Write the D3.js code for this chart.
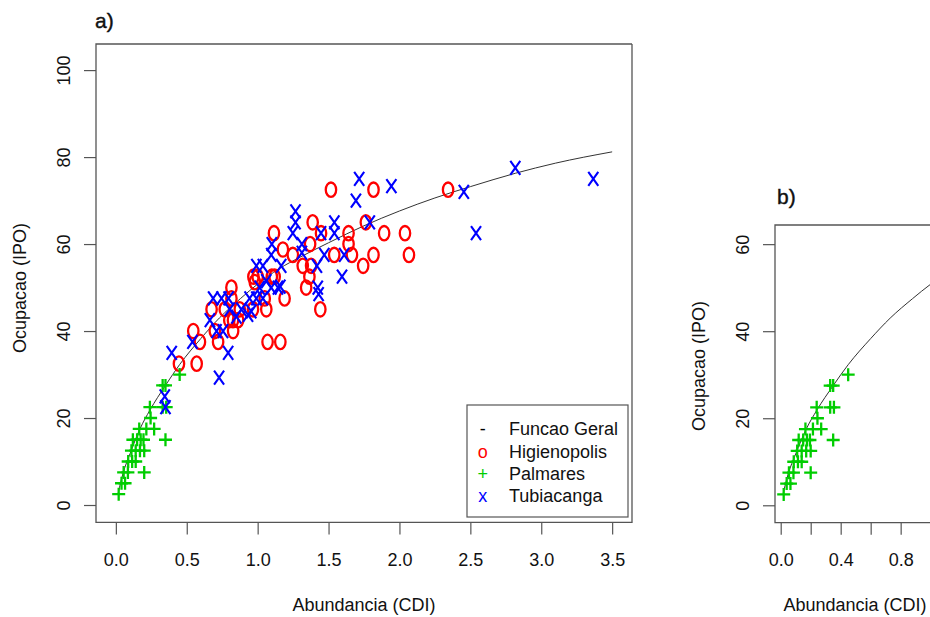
<!DOCTYPE html>
<html><head><meta charset="utf-8">
<script src="https://cdn.jsdelivr.net/npm/d3@7"></script>
<style>body{margin:0;background:#fff}svg{display:block}text{font-family:"Liberation Sans",Arial,sans-serif}</style>
</head><body><svg id="c" width="930" height="617"></svg>
<script>
// fitted curve ("Funcao Geral")
const curveX=[0.017,0.05,0.1,0.17,0.24,0.35,0.45,0.6,0.73,0.88,1.0,1.15,1.3,1.5,1.75,2.0,2.25,2.5,2.82,3.1,3.5];
const curveY=[2.8,7.2,11.8,17.5,21.8,27.5,32.3,38.3,43,47.5,50.8,54.3,57,60.3,64.2,67.6,70.6,73.2,76.3,78.6,81.2];
// Higienopolis
const higX=[0.445,0.57,0.546,0.593,0.721,0.698,0.675,0.768,0.815,0.815,0.80,0.826,0.862,0.827,0.874,0.967,1.05,1.061,0.97,0.98,1.0,1.1,1.12,1.07,1.16,1.115,1.178,1.19,1.248,1.318,1.377,1.365,1.342,1.37,1.388,1.442,1.447,1.517,1.54,1.641,1.641,1.665,1.744,1.763,1.817,1.817,1.892,2.039,2.067,2.343];
const higY=[32.5,32.5,40,37.5,37.5,40,45,45,50,47.5,42.5,42.5,42.5,40,45,45,47.5,45,52.5,51.25,52.5,52.5,52.5,37.5,37.5,62.5,58.75,47.5,57.5,55,55,52.5,50,60,65,45,62.5,72.5,57.5,62.5,60,57.5,55,65,72.5,57.5,62.5,62.5,57.5,72.5];
// Palmares
const palX=[0.45,0.33,0.35,0.24,0.33,0.355,0.245,0.165,0.215,0.27,0.35,0.12,0.15,0.175,0.195,0.11,0.14,0.17,0.2,0.087,0.115,0.14,0.055,0.085,0.2,0.04,0.065,0.02];
const palY=[30,27.5,27.5,22.5,22.5,22.5,20,17.5,17.5,17.5,15,15,15,15,15,12.5,12.5,12.5,12.5,10,10,10,7.5,7.5,7.5,5,5,2.5];
// Tubiacanga
const tubX=[0.345,0.35,0.394,0.54,0.728,0.792,0.663,0.71,0.756,0.686,0.745,0.795,0.803,0.85,0.885,0.932,0.955,0.943,0.991,1.037,1.014,1.061,1.096,1.143,0.991,1.037,1.096,1.1,1.166,1.16,1.248,1.267,1.267,1.312,1.312,1.418,1.424,1.43,1.447,1.47,1.541,1.541,1.595,1.61,1.693,1.716,1.791,1.943,2.454,2.54,2.817,3.367];
const tubY=[25,22.5,35,37.5,29.3,35,42.5,40,40,47.5,47.5,47.5,45,43.3,45,43.7,44.5,47.5,47.5,47.5,50,51.5,50,50,55,55,57.5,60,55,50.2,62.5,65,67.5,60,58,55,50,48.5,62.5,57.5,65,62.5,52.5,57.5,70,75,65,73.3,72,62.5,77.5,75];
// ticks
const xTicksA=[0,0.5,1,1.5,2,2.5,3,3.5];
const xLabelsA=["0.0","0.5","1.0","1.5","2.0","2.5","3.0","3.5"];
const yTicksA=[0,20,40,60,80,100];
const xTicksB=[0,0.2,0.4,0.6,0.8,1.0];
const xLabelsB=["0.0","","0.4","","0.8",""];
const yTicksB=[0,20,40,60];
const legendLabels=["Funcao Geral","Higienopolis","Palmares","Tubiacanga"];
const legendSymbols=["-","o","+","x"];
const legendColors=["#000","#ff0000","#00cd00","#0000ff"];

const FONT='"Liberation Sans",Arial,sans-serif';
const svg=d3.select("#c");
svg.append("rect").attr("width",930).attr("height",617).attr("fill","#fff");
const defs=svg.append("defs");

function panel(id,x,y,box,xt,xl,yt,title,titlePos,yTitleY,xTitleX){
  const [L,R,T,B]=box;
  defs.append("clipPath").attr("id",id).append("rect").attr("x",L).attr("y",T).attr("width",R-L).attr("height",B-T);
  const gx=svg.append("g").attr("transform",`translate(0,${B})`)
    .call(d3.axisBottom(x).tickValues(xt).tickSize(12).tickFormat((d,i)=>xl[i]));
  gx.attr("font-family",FONT).attr("font-size",18);
  gx.select(".domain").remove();
  gx.selectAll(".tick line").attr("stroke","#555").attr("stroke-width",1.2);
  gx.selectAll(".tick text").attr("y",31).attr("dy","0.71em").attr("fill","#111");
  const gy=svg.append("g").attr("transform",`translate(${L},0)`)
    .call(d3.axisLeft(y).tickValues(yt).tickSize(12));
  gy.attr("font-family",FONT).attr("font-size",18);
  gy.select(".domain").remove();
  gy.selectAll(".tick line").attr("stroke","#555").attr("stroke-width",1.2);
  gy.selectAll(".tick text").attr("x",0).attr("dy",null).attr("text-anchor","middle")
    .attr("fill","#111").attr("transform","translate(-26,0) rotate(-90)");
  svg.append("path").attr("d",`M${R},${T}H${L}V${B}H${R}V${T}`).attr("fill","none")
    .attr("stroke","#555").attr("stroke-width",1.3);
  svg.append("text").attr("x",titlePos[0]).attr("y",titlePos[1]).attr("font-size",21)
    .attr("fill","#111").attr("stroke","#111").attr("stroke-width",0.4).text(title);
  svg.append("text").attr("x",xTitleX).attr("y",611).attr("text-anchor","middle")
    .attr("font-size",18).attr("fill","#111").text("Abundancia (CDI)");
  svg.append("text").attr("transform",`translate(${L-70},${yTitleY}) rotate(-90)`)
    .attr("text-anchor","middle").attr("font-size",18).attr("fill","#111").text("Ocupacao (IPO)");
  const g=svg.append("g").attr("clip-path",`url(#${id})`);
  const line=d3.line().x(d=>x(d[0])).y(d=>y(d[1])).curve(d3.curveMonotoneX);
  g.append("path").datum(curveX.map((v,i)=>[v,curveY[i]])).attr("d",line)
    .attr("fill","none").attr("stroke","#333").attr("stroke-width",1);
  return g;
}
function drawPal(g,x,y){
  g.selectAll(null).data(palX.map((v,i)=>[v,palY[i]])).enter().append("path")
    .attr("transform",d=>`translate(${x(d[0])},${y(d[1])})`)
    .attr("d","M-6.5,0H6.5M0,-6.5V6.5").attr("stroke","#00cd00").attr("stroke-width",2.3).attr("fill","none");
}
function drawHig(g,x,y){
  g.selectAll(null).data(higX.map((v,i)=>[v,higY[i]])).enter().append("ellipse")
    .attr("cx",d=>x(d[0])).attr("cy",d=>y(d[1])).attr("rx",5.2).attr("ry",7.2)
    .attr("stroke","#ff0000").attr("stroke-width",2.3).attr("fill","none");
}
function drawTub(g,x,y){
  g.selectAll(null).data(tubX.map((v,i)=>[v,tubY[i]])).enter().append("path")
    .attr("transform",d=>`translate(${x(d[0])},${y(d[1])})`)
    .attr("d","M-5,-7L5,7M-5,7L5,-7").attr("stroke","#0000ff").attr("stroke-width",2.1).attr("fill","none");
}

// Panel a
const xA=d3.scaleLinear().domain([-0.14,3.64]).range([96,632]);
const yA=d3.scaleLinear().domain([-4,106]).range([522.4,44]);
const gA=panel("clipA",xA,yA,[96,632,44,522.4],xTicksA,xLabelsA,yTicksA,"a)",[95,28],288,364);
drawHig(gA,xA,yA); drawPal(gA,xA,yA); drawTub(gA,xA,yA);

// legend
const lg=svg.append("g").attr("font-family",FONT).attr("font-size",18);
lg.append("rect").attr("x",467).attr("y",405).attr("width",161).attr("height",112)
  .attr("fill","#fff").attr("stroke","#555").attr("stroke-width",1.2);
const rowsY=[429,451.3,473.6,496];
legendLabels.forEach((t,i)=>{
  lg.append("text").attr("x",482.7).attr("y",rowsY[i]).attr("dy","0.35em").attr("text-anchor","middle")
    .attr("fill",legendColors[i]).text(legendSymbols[i]);
  lg.append("text").attr("x",509).attr("y",rowsY[i]).attr("dy","0.35em").attr("fill","#111").text(t);
});

// Panel b
const xB=d3.scaleLinear().domain([-0.038,1.029]).range([775,935]);
const yB=d3.scaleLinear().domain([-4,64.4]).range([522.7,225]);
const gB=panel("clipB",xB,yB,[775,935,225,522.7],xTicksB,xLabelsB,yTicksB,"b)",[777,204],366,855);
drawPal(gB,xB,yB);
</script></body></html>
